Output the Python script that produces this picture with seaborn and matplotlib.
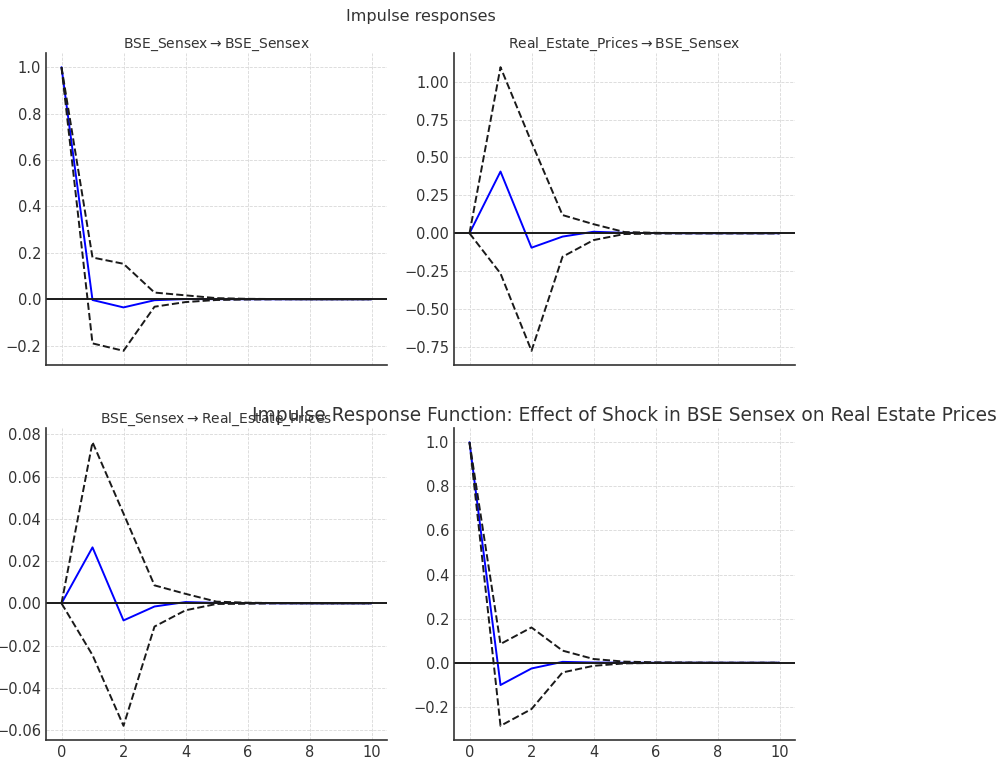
import numpy as np
import pandas as pd
import matplotlib
matplotlib.use("Agg")
import matplotlib.pyplot as plt
import seaborn as sns

periods = list(range(11))

# BSE_Sensex -> BSE_Sensex
irf_bse_bse = [1.0, -0.003, -0.035, -0.004, 0.001, 0.0005, 0.0001, 0.0, 0.0, 0.0, 0.0]
up_bse_bse = [1.0, 0.18, 0.153, 0.029, 0.017, 0.005, 0.002, 0.001, 0.0, 0.0, 0.0]
lo_bse_bse = [1.0, -0.19, -0.222, -0.032, -0.012, -0.003, -0.001, 0.0, 0.0, 0.0, 0.0]

# Real_Estate_Prices -> BSE_Sensex
irf_re_bse = [0.0, 0.407, -0.095, -0.022, 0.01, 0.003, 0.001, 0.0, 0.0, 0.0, 0.0]
up_re_bse = [0.0, 1.095, 0.6, 0.12, 0.06, 0.008, 0.003, 0.001, 0.0, 0.0, 0.0]
lo_re_bse = [0.0, -0.265, -0.775, -0.155, -0.045, -0.005, -0.002, -0.001, 0.0, 0.0, 0.0]

# BSE_Sensex -> Real_Estate_Prices
irf_bse_re = [0.0, 0.0265, -0.0081, -0.0015, 0.0006, 0.0002, 0.0001, 0.0, 0.0, 0.0, 0.0]
up_bse_re = [0.0, 0.0763, 0.0425, 0.0085, 0.0045, 0.0008, 0.0003, 0.0001, 0.0, 0.0, 0.0]
lo_bse_re = [0.0, -0.0245, -0.058, -0.011, -0.0033, -0.0003, -0.0002, 0.0, 0.0, 0.0, 0.0]

# Real_Estate_Prices -> Real_Estate_Prices
irf_re_re = [1.0, -0.101, -0.026, 0.004, 0.001, 0.0003, 0.0, 0.0, 0.0, 0.0, 0.0]
up_re_re = [1.0, 0.085, 0.16, 0.055, 0.017, 0.005, 0.002, 0.001, 0.0, 0.0, 0.0]
lo_re_re = [1.0, -0.286, -0.21, -0.044, -0.014, -0.003, -0.001, 0.0, 0.0, 0.0, 0.0]

panel_titles = [
    "BSE_Sensex$\\rightarrow$BSE_Sensex",
    "Real_Estate_Prices$\\rightarrow$BSE_Sensex",
    "BSE_Sensex$\\rightarrow$Real_Estate_Prices",
    None,
]
suptitle = "Impulse responses"
main_title = "Impulse Response Function: Effect of Shock in BSE Sensex on Real Estate Prices"

panels = [
    (irf_bse_bse, up_bse_bse, lo_bse_bse),
    (irf_re_bse, up_re_bse, lo_re_bse),
    (irf_bse_re, up_bse_re, lo_bse_re),
    (irf_re_re, up_re_re, lo_re_re),
]

sns.set_theme(style="whitegrid")
txt = "#333333"
plt.rcParams.update({
    "font.family": ["DejaVu Sans"],
    "text.color": txt,
    "axes.labelcolor": txt,
    "xtick.color": txt,
    "ytick.color": txt,
    "axes.edgecolor": txt,
    "grid.color": "#d8d8d8",
    "grid.linestyle": "--",
    "grid.linewidth": 0.6,
    "axes.facecolor": "white",
})

fig = plt.figure(figsize=(9.96, 7.58), dpi=100)
W, H = 996, 758
boxes = [(46, 53), (454, 53), (46, 428), (454, 428)]
aw, ah = 341, 312
axes = []
for (x0, y0) in boxes:
    ax = fig.add_axes([x0 / W, 1 - (y0 + ah) / H, aw / W, ah / H])
    axes.append(ax)

for i, (ax, (irf, up, lo)) in enumerate(zip(axes, panels)):
    df = pd.DataFrame({"period": periods, "irf": irf, "upper": up, "lower": lo})
    sns.lineplot(data=df, x="period", y="irf", ax=ax, color="#0000ff", lw=1.4)
    sns.lineplot(data=df, x="period", y="upper", ax=ax, color="k", lw=1.4, linestyle="--")
    sns.lineplot(data=df, x="period", y="lower", ax=ax, color="k", lw=1.4, linestyle="--")
    ax.axhline(0, color="k", lw=1.4)
    ax.set_xlabel("")
    ax.set_ylabel("")
    ax.set_xticks([0, 2, 4, 6, 8, 10])
    ax.set_xlim(-0.5, 10.5)
    for s in ["top", "right"]:
        ax.spines[s].set_visible(False)
    for s in ["left", "bottom"]:
        ax.spines[s].set_color(txt)
        ax.spines[s].set_linewidth(1.2)
    ax.tick_params(axis="x", length=2.5, width=0.8, direction="out", pad=1.0,
                   labelsize=10.5, color=txt)
    ax.tick_params(axis="y", length=0, labelsize=10.5)
    ax.grid(True)
    if i < 2:
        ax.tick_params(axis="x", labelbottom=False)
    if panel_titles[i]:
        ax.set_title(panel_titles[i], fontsize=10, color=txt, pad=4)

fig.suptitle(suptitle, x=(46 + 795) / 2 / W, y=1 - 9 / H, fontsize=11.5, color=txt)
plt.title(main_title, fontsize=13.4, color=txt, pad=5)

fig.savefig("out.png", dpi=100)
